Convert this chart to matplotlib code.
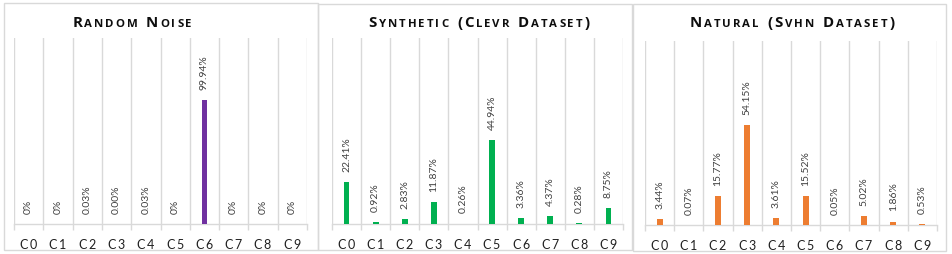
import matplotlib
matplotlib.use('Agg')
import matplotlib.pyplot as plt
from matplotlib.patches import Rectangle

W, H = 952, 255

categories = ['C0', 'C1', 'C2', 'C3', 'C4', 'C5', 'C6', 'C7', 'C8', 'C9']
noise_vals = [0, 0, 0.03, 0.00, 0.03, 0, 99.94, 0, 0, 0]
noise_labels = ['0%', '0%', '0.03%', '0.00%', '0.03%', '0%', '99.94%', '0%', '0%', '0%']
clevr_vals = [22.41, 0.92, 2.83, 11.87, 0.26, 44.94, 3.36, 4.37, 0.28, 8.75]
clevr_labels = ['22.41%', '0.92%', '2.83%', '11.87%', '0.26%', '44.94%', '3.36%', '4.37%', '0.28%', '8.75%']
svhn_vals = [3.44, 0.07, 15.77, 54.15, 3.61, 15.52, 0.05, 5.02, 1.86, 0.53]
svhn_labels = ['3.44%', '0.07%', '15.77%', '54.15%', '3.61%', '15.52%', '0.05%', '5.02%', '1.86%', '0.53%']
titles = ['Random Noise', 'Synthetic (Clevr Dataset)', 'Natural (Svhn Dataset)']

fig = plt.figure(figsize=(W / 100, H / 100), dpi=100)
fig.patch.set_facecolor('white')

# panel frames (pixels: left, top, right, bottom)
frames = [(4, 4, 318, 251), (318, 5, 632, 251), (633, 5, 946, 252)]
for l, t, r, b in frames:
    fig.patches.append(Rectangle((l / W, 1 - b / H), (r - l) / W, (b - t) / H,
                                 transform=fig.transFigure, fill=False,
                                 edgecolor='#d9d9d9', linewidth=1.0))

# axes boxes in pixels
boxes = [(14, 39, 307, 225), (332, 39, 623, 225), (645, 42, 937, 226)]
series = [(noise_vals, noise_labels, '#7030A0', 150),
          (clevr_vals, clevr_labels, '#00B050', 100),
          (svhn_vals, svhn_labels, '#ED7D31', 100)]
title_cx = [132, 479, 792]

grid_c = '#d9d9d9'
txt_c = '#404040'

for (l, t, r, b), (vals, labs, col, ymax) in zip(boxes, series):
    ax = fig.add_axes([l / W, 1 - b / H, (r - l) / W, (b - t) / H])
    x = list(range(len(categories)))
    ax.bar(x, vals, width=0.2, color=col, zorder=3)
    ax.set_xlim(-0.5, len(categories) - 0.5)
    ax.set_ylim(0, ymax)
    for xb in [i - 0.5 for i in range(len(categories) + 1)]:
        ax.axvline(xb, color=grid_c, linewidth=1.0, zorder=1)
    for s in ['top', 'right', 'left']:
        ax.spines[s].set_visible(False)
    ax.spines['bottom'].set_color(grid_c)
    ax.spines['bottom'].set_linewidth(1.0)
    ax.set_yticks([])
    ax.set_xticks([i - 0.5 for i in range(len(categories) + 1)], minor=True)
    ax.set_xticks(x)
    ax.set_xticklabels([c[0] + '\u2009' + c[1:] for c in categories],
                       fontsize=9, color='#202020', family='Lato')
    ax.tick_params(axis='x', which='major', length=0, pad=10)
    ax.tick_params(axis='x', which='minor', length=4, color=grid_c, width=1.0)
    ax.patch.set_alpha(0)
    for xi, v, lab in zip(x, vals, labs):
        ax.annotate(lab, (xi, v), xytext=(0, 8), textcoords='offset points',
                    rotation=90, ha='center', va='bottom', fontsize=7.5,
                    color=txt_c, family='Lato')

# small-caps titles with letter spacing
fig.canvas.draw()
renderer = fig.canvas.get_renderer()


def small_caps(text, cx, baseline, big=10.8, small=8.2, track=2.0):
    pieces = []
    for ch in text:
        if ch == ' ':
            pieces.append((None, 4.5))
            continue
        up = ch.isupper() or not ch.isalpha()
        size = big if up else small
        t = fig.text(0, 0, ch.upper(), fontsize=size, fontweight='bold',
                     family='Open Sans', color='#0d0d0d', va='baseline', ha='left')
        w = t.get_window_extent(renderer).width
        pieces.append((t, w))
    total = sum(w for _, w in pieces) + track * (len(pieces) - 1)
    xp = cx - total / 2
    for t, w in pieces:
        if t is not None:
            t.set_position((xp / W, 1 - baseline / H))
        xp += w + track


for ttl, cx in zip(titles, title_cx):
    small_caps(ttl, cx, 27)

fig.savefig('out.png', dpi=100, facecolor='white')
